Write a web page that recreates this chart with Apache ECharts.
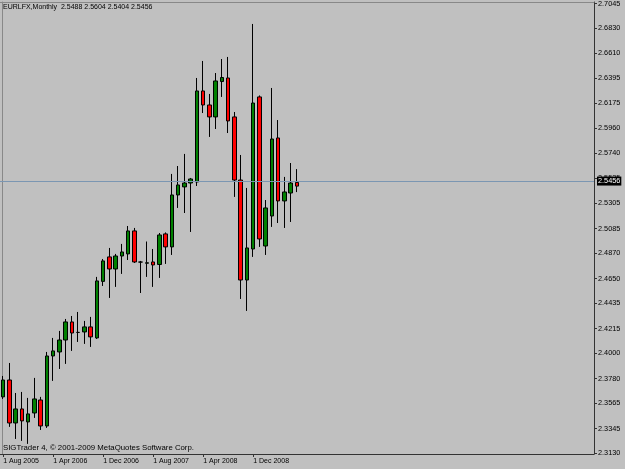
<!DOCTYPE html>
<html><head><meta charset="utf-8">
<script src="https://cdn.jsdelivr.net/npm/echarts@6/dist/echarts.min.js"></script>
<style>html,body{margin:0;padding:0;background:#c0c0c0}#c{width:625px;height:469px}</style>
</head><body><div id="c"></div>
<script>
const months = [
 '1 Aug 2005','1 Sep 2005','1 Oct 2005','1 Nov 2005','1 Dec 2005',
 '1 Jan 2006','1 Feb 2006','1 Mar 2006','1 Apr 2006','1 May 2006','1 Jun 2006','1 Jul 2006','1 Aug 2006','1 Sep 2006','1 Oct 2006','1 Nov 2006','1 Dec 2006',
 '1 Jan 2007','1 Feb 2007','1 Mar 2007','1 Apr 2007','1 May 2007','1 Jun 2007','1 Jul 2007','1 Aug 2007','1 Sep 2007','1 Oct 2007','1 Nov 2007','1 Dec 2007',
 '1 Jan 2008','1 Feb 2008','1 Mar 2008','1 Apr 2008','1 May 2008','1 Jun 2008','1 Jul 2008','1 Aug 2008','1 Sep 2008','1 Oct 2008','1 Nov 2008','1 Dec 2008',
 '1 Jan 2009','1 Feb 2009','1 Mar 2009','1 Apr 2009','1 May 2009','1 Jun 2009','1 Jul 2009'
];
const opens  = [2.3622,2.3769,2.3395,2.3517,2.3404,2.3482,2.3595,2.3369,2.3978,2.4013,2.4117,2.4274,2.4183,2.4187,2.4231,2.4135,
                2.4627,2.4840,2.4735,2.4848,2.4866,2.5066,2.4795,2.4785,2.4796,2.4774,2.5040,2.4927,2.5379,2.5449,2.5483,2.5492,
                2.6284,2.6162,2.6058,2.6366,2.6397,2.6058,2.5509,2.4639,2.4909,2.6232,2.4935,2.5196,2.5875,2.5327,2.5396,2.5488];
const closes = [2.3769,2.3395,2.3517,2.3413,2.3474,2.3604,2.3369,2.3978,2.4022,2.4117,2.4274,2.4178,2.4183,2.4231,2.4144,2.4631,
                2.4805,2.4735,2.4848,2.4883,2.5066,2.4796,2.4795,2.4789,2.4770,2.5031,2.4927,2.5379,2.5466,2.5483,2.5518,2.6284,
                2.6162,2.6058,2.6371,2.6401,2.6023,2.5509,2.4639,2.4918,2.6179,2.4996,2.5266,2.5866,2.5327,2.5405,2.5483,2.5456];
const lows   = [2.3604,2.3361,2.3256,2.3239,2.3213,2.3439,2.3334,2.3352,2.3761,2.3865,2.3909,2.4022,2.4100,2.4083,2.4057,2.4126,
                2.4587,2.4483,2.4579,2.4692,2.4813,2.4787,2.4526,2.4666,2.4579,2.4657,2.4779,2.4857,2.5266,2.5222,2.5057,2.5457,
                2.6092,2.5884,2.5953,2.6232,2.5918,2.5362,2.4474,2.4370,2.4840,2.4927,2.4857,2.5101,2.5135,2.5092,2.5144,2.5404];
const highs  = [2.3804,2.3917,2.3656,2.3665,2.3613,2.3787,2.3622,2.4013,2.4135,2.4196,2.4300,2.4326,2.4361,2.4283,2.4318,2.4666,
                2.4822,2.4918,2.4866,2.4953,2.5109,2.5092,2.4805,2.4974,2.4909,2.5048,2.5053,2.5562,2.5631,2.5736,2.5527,2.6397,
                2.6545,2.6258,2.6440,2.6562,2.6580,2.6101,2.5727,2.5440,2.6867,2.6245,2.5335,2.6310,2.6031,2.5536,2.5657,2.5604];
const priceTicks = [2.3130,2.3345,2.3565,2.3780,2.4000,2.4215,2.4435,2.4650,2.4870,2.5085,2.5305,2.5525,2.5740,2.5960,2.6175,2.6395,2.6610,2.6830,2.7045];
const symbolName = 'EURLFX,Monthly';
const copyright = 'SIGTrader 4, \u00A9 2001-2009 MetaQuotes Software Corp.';
const emptySlots = 47;

const axisCats = months.concat(Array.from({length: emptySlots}, () => ''));
const candleData = opens.map((o, i) => [o, closes[i], lows[i], highs[i]]);
const last = candleData.length - 1;
const showIdx = (i) => i % 8 === 0 && i < months.length;
const FONT = 'Liberation Sans, Arial, sans-serif';
const yMin = 2.3125, yMax = 2.7058;

const chart = echarts.init(document.getElementById('c'), null, {renderer: 'canvas'});
chart.setOption({
  animation: false,
  backgroundColor: '#c0c0c0',
  textStyle: {fontFamily: FONT},
  title: [
    {text: symbolName + '  ' + [opens[last], highs[last], lows[last], closes[last]].map(v => v.toFixed(4)).join(' '),
     left: 3, top: 4, padding: 0, textStyle: {fontSize: 7, fontWeight: 'normal', color: '#000', fontFamily: FONT}},
    {text: copyright, left: 3, top: 444, padding: 0,
     textStyle: {fontSize: 7.8, fontWeight: 'normal', color: '#000', fontFamily: FONT}}
  ],
  grid: {left: 0, right: 31, top: 2, bottom: 15},
  xAxis: [
    {type: 'category', data: axisCats, boundaryGap: true, position: 'bottom',
     axisLine: {show: true, lineStyle: {color: '#333', width: 1}},
     axisTick: {show: true, alignWithLabel: true, length: 3, interval: showIdx, lineStyle: {color: '#333'}},
     axisLabel: {show: true, interval: showIdx, align: 'left', fontSize: 7, margin: 4, color: '#000', fontFamily: FONT},
     splitLine: {show: false}},
    {type: 'category', data: axisCats, position: 'top',
     axisLine: {show: true, lineStyle: {color: '#888', width: 1}},
     axisTick: {show: false}, axisLabel: {show: false}, splitLine: {show: false}}
  ],
  yAxis: [
    {type: 'value', position: 'right', min: yMin, max: yMax, scale: true,
     axisLine: {show: true, lineStyle: {color: '#333', width: 1}},
     axisTick: {show: true, length: 3, customValues: priceTicks, lineStyle: {color: '#333'}},
     axisLabel: {show: true, customValues: priceTicks, formatter: v => v.toFixed(4), fontSize: 7.3, margin: 4, color: '#000', fontFamily: FONT},
     splitLine: {show: false}},
    {type: 'value', position: 'left', min: yMin, max: yMax, scale: true, offset: -2,
     axisLine: {show: true, lineStyle: {color: '#888', width: 1}},
     axisTick: {show: false}, axisLabel: {show: false}, splitLine: {show: false}}
  ],
  series: [
    {
      type: 'line', xAxisIndex: 0, yAxisIndex: 0, data: [], z: 1, silent: true,
      markLine: {
        silent: true, symbol: 'none', animation: false,
        lineStyle: {color: '#7b96b2', width: 1, type: 'solid'},
        label: {show: true, position: 'end', distance: 3, formatter: closes[last].toFixed(4),
                backgroundColor: '#000', color: '#fff', fontSize: 7.3, padding: [1, 1], fontFamily: FONT},
        data: [{yAxis: closes[last]}]
      }
    },
    {
      type: 'candlestick', z: 3,
      xAxisIndex: 0, yAxisIndex: 0,
      data: candleData,
      barWidth: 4,
      itemStyle: {
        color: '#008000', color0: '#ff0000',
        borderColor: '#000', borderColor0: '#000', borderColorDoji: '#000', borderWidth: 1
      }
    }
  ]
});
</script>
</body></html>
